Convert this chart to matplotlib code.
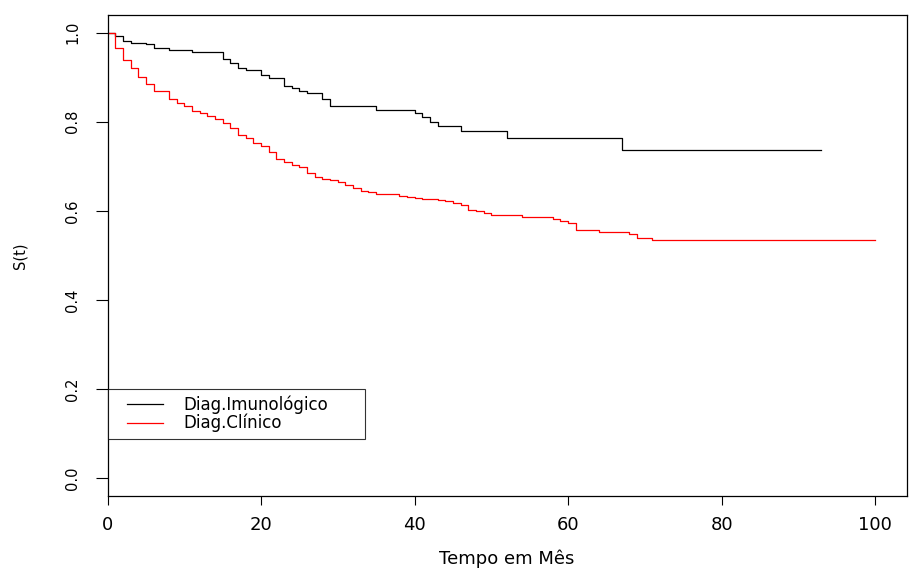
import numpy as np
import matplotlib.pyplot as plt
from matplotlib.legend_handler import HandlerLine2D

plt.rcParams['font.family'] = ['DejaVu Sans']

# Kaplan-Meier estimates (time in months, S(t))
imuno_t = [0, 1, 2, 3, 5, 6, 8, 11, 15, 16, 17, 18, 20, 21, 23, 24, 25, 26, 28, 29,
           35, 40, 41, 42, 43, 46, 52, 67, 93]
imuno_s = [1.0, 0.993, 0.982, 0.978, 0.974, 0.965, 0.961, 0.956, 0.942, 0.933, 0.921,
           0.916, 0.905, 0.898, 0.881, 0.875, 0.870, 0.864, 0.851, 0.835,
           0.826, 0.819, 0.810, 0.799, 0.790, 0.779, 0.764, 0.737, 0.737]

clin_t = [0, 1, 2, 3, 4, 5, 6, 8, 9, 10, 11, 12, 13, 14, 15, 16, 17, 18, 19, 20,
          21, 22, 23, 24, 25, 26, 27, 28, 29, 30, 31, 32, 33, 34, 35, 38, 39, 40,
          41, 43, 44, 45, 46, 47, 48, 49, 50, 54, 58, 59, 60, 61, 64, 68, 69, 71, 100]
clin_s = [1.0, 0.965, 0.939, 0.921, 0.901, 0.886, 0.869, 0.851, 0.843, 0.836, 0.825,
          0.820, 0.814, 0.807, 0.797, 0.785, 0.771, 0.763, 0.752, 0.746,
          0.733, 0.717, 0.709, 0.703, 0.698, 0.684, 0.677, 0.671, 0.669, 0.665,
          0.658, 0.651, 0.645, 0.643, 0.638, 0.633, 0.630, 0.628,
          0.627, 0.624, 0.621, 0.618, 0.613, 0.602, 0.599, 0.596, 0.591, 0.587,
          0.582, 0.577, 0.572, 0.558, 0.553, 0.548, 0.540, 0.534, 0.534]

labels = ['Diag.Imunológico', 'Diag.Clínico']
colors = ['black', 'red']

fig = plt.figure(figsize=(9.09, 5.70), dpi=100)
ax = fig.add_axes([0.1183, 0.1304, 0.9973 - 0.1183, 0.9737 - 0.1304])

l1, = ax.step(imuno_t, imuno_s, where='post', color=colors[0], lw=0.9, label=labels[0])
l2, = ax.step(clin_t, clin_s, where='post', color=colors[1], lw=0.9, label=labels[1])

ax.set_xlim(0, 104.1)
ax.set_ylim(-0.04, 1.04)
ax.set_xticks([0, 20, 40, 60, 80, 100])
ax.set_yticks([0.0, 0.2, 0.4, 0.6, 0.8, 1.0])
ax.set_yticklabels(['0.0', '0.2', '0.4', '0.6', '0.8', '1.0'], rotation=90, va='center')
ax.tick_params(axis='x', length=6.3, width=0.8, labelsize=13, pad=8.5)
ax.tick_params(axis='y', length=8.6, width=0.8, labelsize=10.5, pad=11)
for s in ax.spines.values():
    s.set_linewidth(0.9)

ax.set_xlabel('Tempo em Mês', fontsize=13, labelpad=11)
ax.set_ylabel('S(t)', fontsize=10.5, labelpad=27)

# legend box: top-left corner at (0, 0.2), about 33.5 months wide
hmap = {l1: HandlerLine2D(xpad=0.75), l2: HandlerLine2D(xpad=0.75)}
leg = ax.legend(handles=[l1, l2], loc='upper left', bbox_to_anchor=(0, 0.2, 33.5, 0),
                bbox_transform=ax.transData, handler_map=hmap, mode='expand',
                fontsize=12, frameon=True, fancybox=False, edgecolor='black',
                borderaxespad=0, handlelength=2.91, handletextpad=1.26,
                labelspacing=0.0, borderpad=0.39)
leg.get_frame().set_linewidth(0.8)
for h in leg.get_lines():
    h.set_linewidth(0.9)

fig.savefig('out.png', dpi=100)
